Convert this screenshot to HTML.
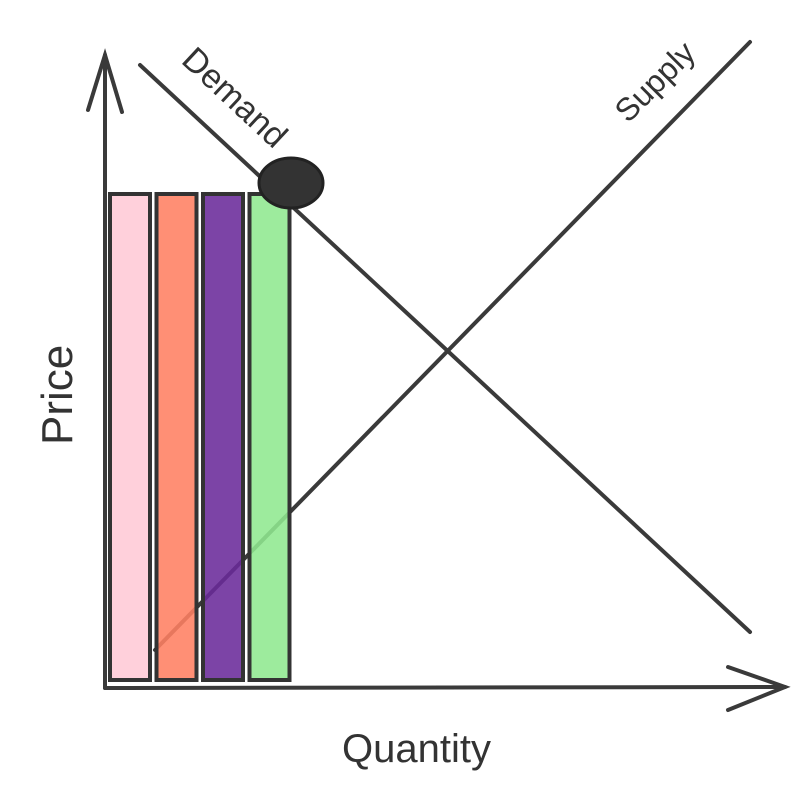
<!DOCTYPE html>
<html><head><meta charset="utf-8"><style>
html,body{margin:0;padding:0;background:#fff}
svg{display:block}
text{font-family:"Liberation Sans",sans-serif;fill:#333}
</style></head><body>
<svg id="chart" width="808" height="801" viewBox="0 0 808 801">
<g stroke="#3a3a3a" stroke-width="4" fill="none" stroke-linecap="round">
<line x1="140" y1="65" x2="750" y2="632"/>
<line x1="155" y1="650" x2="750" y2="42"/>
</g>
<g id="bars"></g>
<g stroke="#3a3a3a" stroke-width="4" fill="none" stroke-linecap="round">
<line x1="105" y1="688" x2="105" y2="55"/>
<path d="M88 110 L105 55 L122 112"/>
<line x1="105" y1="688" x2="785" y2="687"/>
<path d="M728 667 L785 687 L728 710"/>
</g>
<ellipse cx="291" cy="183" rx="32" ry="25" fill="#333" stroke="#222" stroke-width="3"/>
<text x="0" y="0" font-size="44" transform="translate(72,445) rotate(-90)">Price</text>
<text x="342" y="762" font-size="40">Quantity</text>
<text x="0" y="0" font-size="34" transform="translate(180,62) rotate(43)">Demand</text>
<text x="0" y="0" font-size="32" transform="translate(628,124) rotate(-45)">Supply</text>
</svg>
<script>
const categories = ["a","b","c","d"];
const values = [100, 100, 100, 100];
const colors = ["#ffc9d6","#ff7f62","#6a2a9a","#8fe88f"];
const x0 = 110, slot = 46.5, bw = 40, yBase = 680, yTop = 194, vMax = 100;
function yScale(v){ return yBase - (yBase - yTop) * v / vMax; }
const g = document.getElementById('bars');
const NS = "http://www.w3.org/2000/svg";
categories.forEach((c,i)=>{
  const r = document.createElementNS(NS,'rect');
  r.setAttribute('x', x0 + i*slot);
  r.setAttribute('y', yScale(values[i]));
  r.setAttribute('width', bw);
  r.setAttribute('height', yBase - yScale(values[i]));
  r.setAttribute('fill', colors[i]);
  r.setAttribute('fill-opacity', '0.88');
  r.setAttribute('stroke', '#333');
  r.setAttribute('stroke-width', '4');
  
  
  g.appendChild(r);
});
</script>
</body></html>
